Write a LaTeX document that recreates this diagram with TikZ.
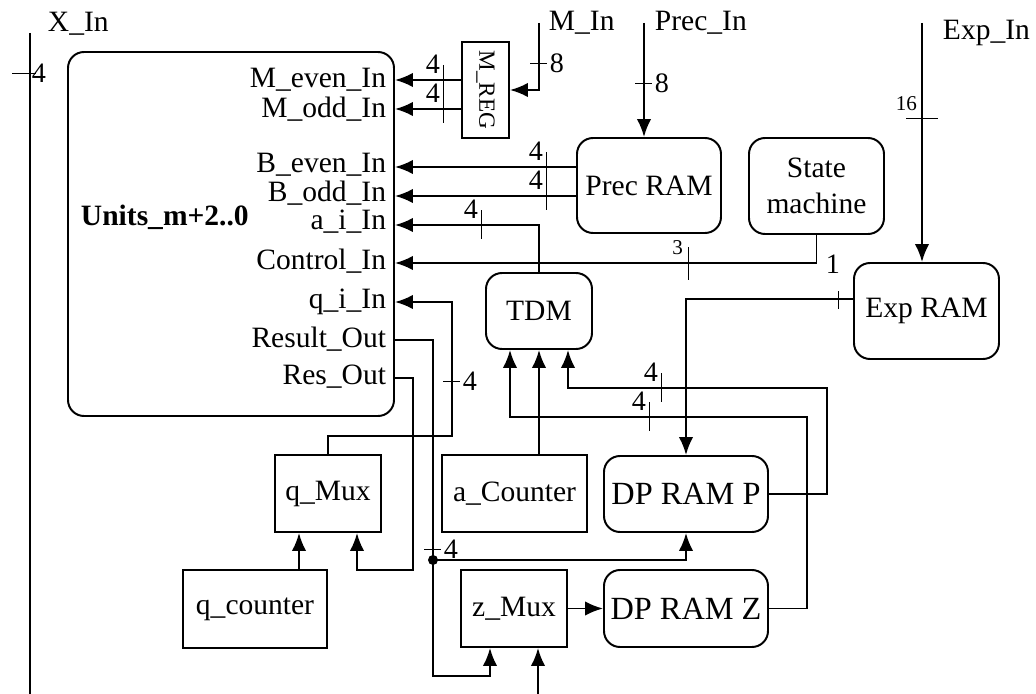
\documentclass[tikz,border=0pt]{standalone}
\usepackage{fontspec}
\setmainfont{Liberation Serif}
\usetikzlibrary{arrows.meta, calc}
\tikzset{
  every picture/.style={line width=1.4pt},
  boxsize/.style 2 args={minimum width=#1*0.25mm, minimum height=#2*0.25mm},
  blk/.style={draw, align=center, inner sep=2pt, font=\fontsize{21}{25.6}\selectfont},
  rblk/.style={blk, rounded corners=4mm},
  port/.style={anchor=east, inner sep=0pt, font=\fontsize{21}{25}\selectfont},
  io/.style={anchor=west, inner sep=0pt, font=\fontsize{21}{25}\selectfont},
  wire/.style={line width=1.4pt},
  arrow/.style={-{Latex[length=4.5mm, width=3.6mm]}, line width=1.4pt},
  tick/.style={line width=0.7pt},
  bus/.style={inner sep=0pt, font=\fontsize{20}{24}\selectfont},
  smallbus/.style={inner sep=0pt, font=\fontsize{15}{18}\selectfont},
}
\newcommand{\vtick}[4]{% x, y, width, name: tick across a horizontal wire
  \draw[tick] (#1,#2-15) -- (#1,#2+14);
  \node[bus, anchor=south east] (#4) at (#1-2,#2-6) {#3};}
\newcommand{\htick}[4]{% x, y, width, name: tick across a vertical wire
  \draw[tick] (#1-9,#2) -- (#1+8,#2);
  \node[bus, anchor=west] (#4) at (#1+10,#2) {#3};}

\begin{document}
\begin{tikzpicture}[x=0.25mm, y=-0.25mm]
  \useasboundingbox (0,0) rectangle (1036,694);
  % units block and its ports
  \node[rblk, boxsize={326}{364}] (units) at (231,234) {};
  \node[anchor=west, inner sep=0pt, font=\fontsize{21}{25}\selectfont\bfseries] (ulbl) at (80,217) {Units\_m+2..0};
  \foreach \n/\t/\y/\ly in {Me/M\_even\_In/80/80, Mo/M\_odd\_In/109/109, Be/B\_even\_In/167/165, Bo/B\_odd\_In/196/193,
      Ai/a\_i\_In/225/222, Ctl/Control\_In/263/261, Qi/q\_i\_In/302/302, Res/Result\_Out/340/339, Ro/Res\_Out/378/377} {
    \coordinate (p\n) at (units.east |- 0,\y);
    \node[port] (l\n) at (387,\ly) {\t};
  }
  % other blocks
  \node[blk, boxsize={47}{96}, inner sep=0pt, font=\fontsize{16.5}{20}\selectfont] (mreg) at (485.5,90) {\rotatebox{-90}{M\_REG}};
  \node[rblk, boxsize={144}{95}] (prec) at (649,185.5) {Prec RAM};
  \node[rblk, boxsize={135}{96}] (state) at (816.5,186) {State\\machine};
  \node[rblk, boxsize={145}{96}] (exp) at (926.5,311) {Exp RAM};
  \node[rblk, boxsize={106}{76}] (tdm) at (539,311) {TDM};
  \node[blk, boxsize={145}{77}] (acnt) at (514.5,493.5) {a\_Counter};
  \node[rblk, boxsize={164}{76}, font=\fontsize{23}{27}\selectfont] (dpp) at (686,494) {DP RAM P};
  \node[rblk, boxsize={164}{77}, font=\fontsize{23}{27}\selectfont] (dpz) at (686,608.5) {DP RAM Z};
  \node[blk, boxsize={106}{77}] (zmux) at (514,608.5) {z\_Mux};
  \node[blk, boxsize={106}{77}] (qmux) at (328,493.5) {q\_Mux};
  \node[blk, boxsize={144}{78}] (qcnt) at (255,609) {q\_counter};
  % external inputs
  \coordinate (xin) at (30,33);
  \coordinate (xend) at (30,694);
  \coordinate (min) at (539,23);
  \coordinate (precin) at (644,23);
  \coordinate (expin) at (922,23);
  \coordinate (zin) at (538,694);
  \node[io] (xlbl) at (47,24) {X\_In};
  \node[io] (mlbl) at (548,23) {M\_In};
  \node[io] (plbl) at (654,23) {Prec\_In};
  \node[io] (elbl) at (942,33) {Exp\_In};
  \draw[wire] (xin) -- (xend);
  \draw[arrow] (min) |- (mreg.east);
  \draw[arrow] (precin) -- (precin |- prec.north);
  \draw[arrow] (expin) -- (expin |- exp.north);
  % into the units
  \foreach \p in {pMe,pMo} \draw[arrow] (mreg.west |- \p) -- (\p);
  \foreach \p in {pBe,pBo} \draw[arrow] (prec.west |- \p) -- (\p);
  \draw[arrow] (tdm.north) |- (pAi);
  \draw[arrow] (state.south) |- (pCtl);
  \draw[arrow] (qmux.north) |- (452,436) |- (pQi);
  % out of the units
  \draw[arrow] (pRo) -| (413,570) -| ($(qmux.south)+(29,0)$);
  \coordinate (qa) at ($(qmux.south)+(-29,0)$);
  \draw[arrow] (qa |- qcnt.north) -- (qa);
  \draw[arrow] (pRes) -| (433,676) -| ($(zmux.south)+(-24,0)$);
  \coordinate (jn) at (433,560);
  \fill (jn) circle (1.25mm);
  \draw[arrow] (jn) -| (dpp.south);
  \draw[arrow] (zin) -- (zin |- zmux.south);
  \draw[arrow] (zmux.east) -- (dpz.west);
  % feeding the TDM
  \draw[arrow] (acnt.north -| tdm.south) -- (tdm.south);
  \draw[arrow] (dpp.east) -| (827,388) -| ($(tdm.south)+(29,0)$);
  \draw[arrow] (dpz.east) -| (807,417) -| ($(tdm.south)+(-29,0)$);
  \draw[arrow] ($(exp.west)+(0,-12)$) -| (dpp.north);
  % bus widths
  \vtick{443}{80}{4}{w1}
  \vtick{443}{109}{4}{w2}
  \vtick{546}{167}{4}{w3}
  \vtick{546}{196}{4}{w4}
  \vtick{481}{225}{4}{w5}
  \vtick{661}{388}{4}{w6}
  \vtick{649}{417}{4}{w7}
  \htick{539}{63}{8}{w8}
  \htick{644}{83}{8}{w9}
  \htick{452}{381}{4}{w10}
  \htick{433}{549}{4}{w11}
  \draw[tick] (12,73) -- (36,73);
  \node[bus, anchor=west] (w12) at (31,73) {4};
  \draw[tick] (906,118) -- (938,118);
  \node[smallbus, anchor=south east] (w13) at (918,112) {16};
  \draw[tick] (688,247) -- (688,280);
  \node[smallbus, anchor=south east] (w14) at (684,256) {3};
  \draw[tick] (838,291) -- (838,309);
  \node[bus, anchor=south] (w15) at (833,274) {1};
\end{tikzpicture}
\end{document}
